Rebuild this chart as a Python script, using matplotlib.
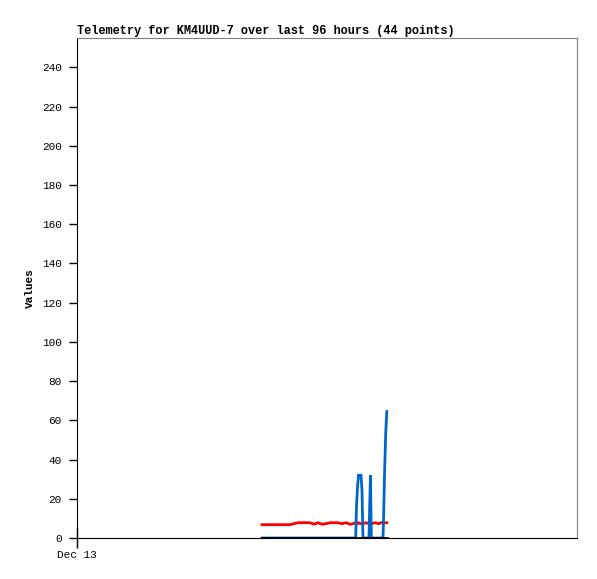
import matplotlib
matplotlib.use("Agg")
import matplotlib.pyplot as plt

# Telemetry samples (hours since Dec 13 00:00)
hours = [35.52, 36.29, 37.06, 37.82, 38.59, 39.36, 40.13, 40.90, 41.66, 42.43,
         43.20, 43.97, 44.74, 45.50, 46.27, 47.04, 47.81, 48.58, 49.34, 50.11,
         50.88, 51.65, 52.42, 52.99, 53.51, 53.66, 53.86, 54.05, 54.53, 54.72,
         54.91, 55.49, 56.06, 56.20, 56.35, 56.51, 57.22, 57.98, 58.37, 58.75,
         58.87, 59.04, 59.27, 59.48]
blue = [0, 0, 0, 0, 0, 0, 0, 0, 0, 0,
        0, 0, 0, 0, 0, 0, 0, 0, 0, 0,
        0, 0, 0, 0, 0, 16, 26, 32, 32, 24,
        0, 0, 0, 17, 32, 0, 0, 0, 0, 0,
        10.7, 32, 53.5, 64.5]
red = [6.8, 6.8, 6.8, 6.8, 6.8, 6.8, 6.8, 6.8, 7.3, 7.8,
       7.8, 7.8, 7.8, 7.0, 7.8, 7.0, 7.3, 7.8, 7.8, 7.8,
       7.3, 7.8, 7.0, 7.3, 7.8, 7.8, 7.3, 7.8, 7.3, 7.0,
       7.3, 7.8, 7.3, 7.8, 7.0, 7.3, 7.8, 7.3, 7.8, 7.8,
       7.8, 7.8, 7.8, 7.8]
black = [0] * len(hours)

yticks = list(range(0, 241, 20))
xtick_labels = ["Dec 13"]

plt.rcParams['font.family'] = ['Liberation Mono', 'DejaVu Sans Mono']

fig = plt.figure(figsize=(5.97, 5.79), dpi=100)
ax = fig.add_axes([77/597, 41/579, 500/597, 500/579])

ax.plot(hours, red, color='#ff0000', lw=2, zorder=2)
ax.plot(hours, blue, color='#0066cc', lw=2, zorder=3, solid_joinstyle='miter')
ax.plot(hours, black, color='#000000', lw=2, zorder=4)

ax.set_xlim(0, 96)
ax.set_ylim(0, 255)
ax.set_yticks(yticks)
ax.set_yticklabels([str(v) for v in yticks], fontsize=8)
ax.set_xticks([0])
ax.set_xticklabels(xtick_labels, fontsize=8)
ax.tick_params(axis='y', direction='out', length=6, width=1, pad=5)
ax.tick_params(axis='x', direction='inout', length=14, width=1, pad=2)

for s in ('top', 'right'):
    ax.spines[s].set_color('#808080')
for s in ('left', 'bottom'):
    ax.spines[s].set_color('black')

ax.set_ylabel("Values", fontsize=8, fontweight='bold', labelpad=5)
ax.set_title("Telemetry for KM4UUD-7 over last 96 hours (44 points)",
             fontsize=8.6, fontweight='bold', loc='left', pad=3)

fig.savefig("out.png", dpi=100)
